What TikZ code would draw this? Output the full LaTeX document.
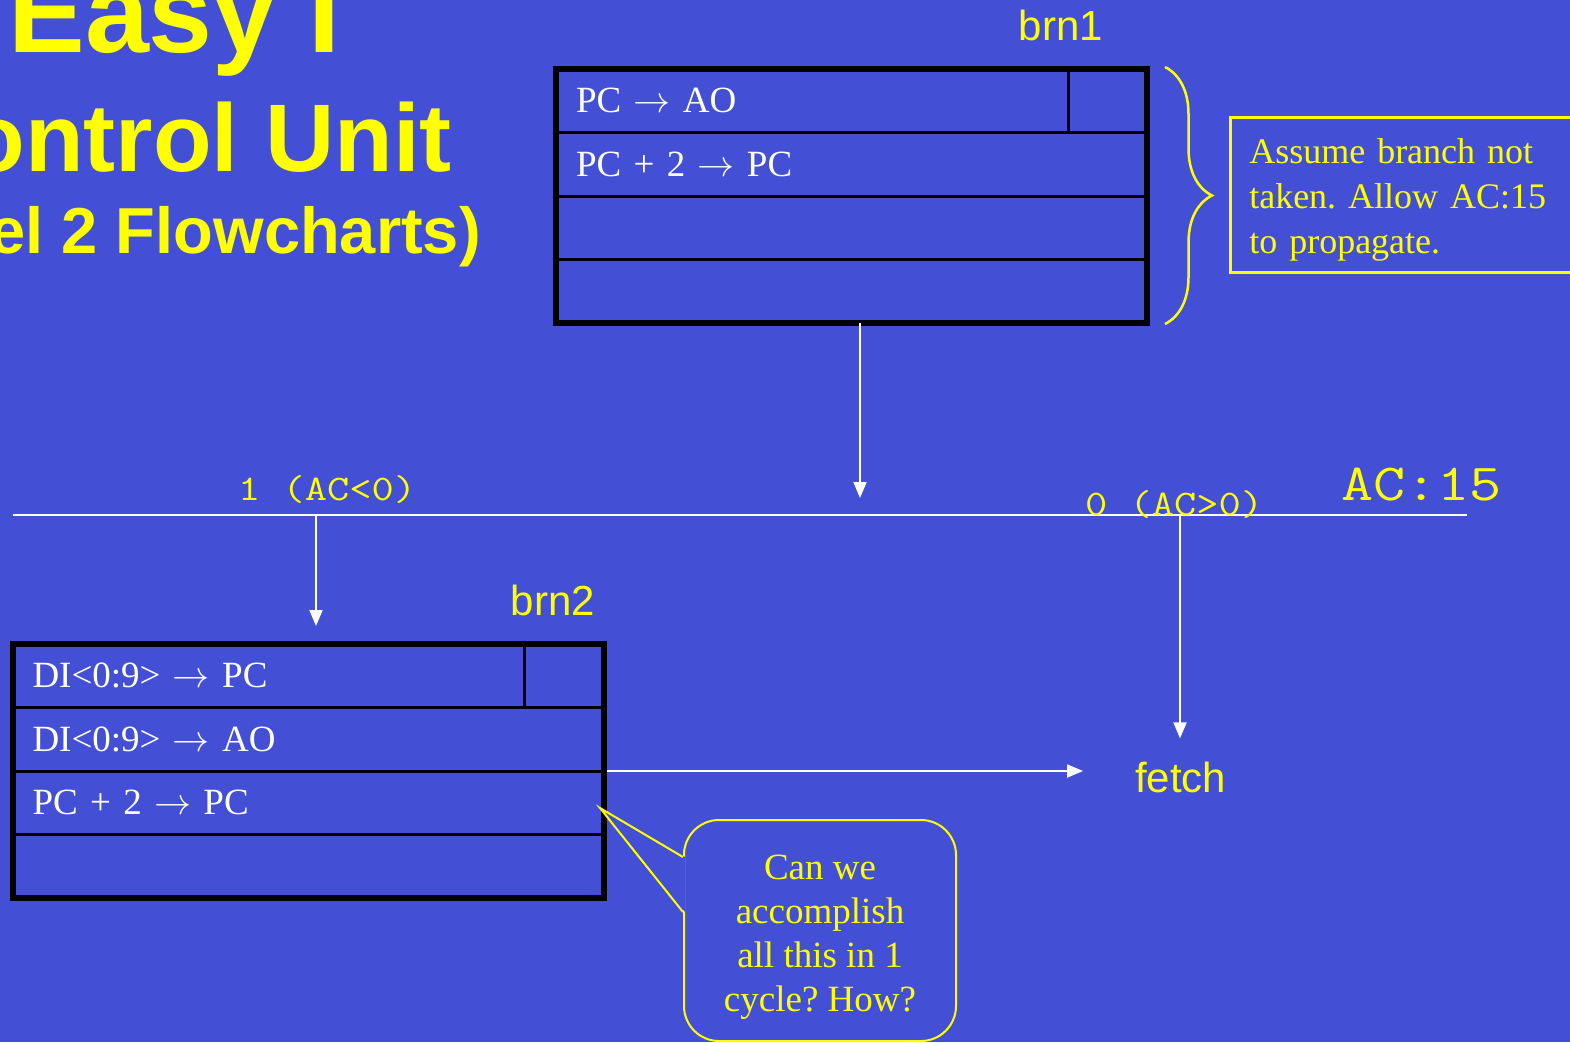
\RequirePackage{fix-cm}
\documentclass[tikz,border=0pt]{standalone}
\usepackage{fontspec}
\setmainfont{Liberation Serif}
\setsansfont{Liberation Sans}
\newfontfamily\courierlike{Latin Modern Mono}[FakeStretch=1.2]
\usepackage{tikz}
\usetikzlibrary{positioning,arrows.meta,decorations.pathreplacing}
\definecolor{slide-blue}{RGB}{67,80,214}
\definecolor{slide-yellow}{RGB}{255,255,0}
\newcommand{\goesto}{\ensuremath{\rightarrow}}
\frenchspacing
\tikzset{
    rtn-row/.style = {draw=black, line width=3pt, rectangle, outer sep=0pt, inner sep=0pt, minimum width=591pt, minimum height=63.5pt, text width=551pt, align=left, text=white, font=\fontsize{37}{45}\selectfont},
    rtn-frame/.style = {draw=black, line width=6pt},
    flow-arrow/.style = {draw=white, line width=2pt, -{Triangle[length=16pt, width=13pt]}},
    bus-line/.style = {draw=white, line width=2pt},
    state-name/.style = {text=slide-yellow, inner sep=0pt, font=\sffamily\fontsize{42}{42}\selectfont},
    branch-label/.style = {text=slide-yellow, inner sep=0pt, font=\courierlike\fontsize{36}{36}\selectfont},
    title-text/.style = {text=slide-yellow, inner sep=0pt, anchor=base east, font=\sffamily\bfseries},
    note-box/.style = {draw=slide-yellow, line width=2.5pt, rectangle, inner xsep=19pt, inner ysep=0pt, minimum height=155pt, text width=382pt, align=left, text=slide-yellow, font=\fontsize{36}{45}\selectfont},
    question-box/.style = {draw=slide-yellow, line width=2pt, rectangle, rounded corners=35pt, minimum width=272pt, minimum height=221pt, align=center, text=slide-yellow, font=\fontsize{37}{44}\selectfont},
}

\begin{document}
\begin{tikzpicture}[x=1pt, y=-1pt]
\useasboundingbox (0,0) rectangle (1570,1042);
\fill[slide-blue] (0,0) rectangle (1570,1042);
\clip (0,0) rectangle (1570,1042);

\node[title-text, font=\sffamily\bfseries\fontsize{115}{115}\selectfont] (title-a) at (341,52) {Easy I};
\node[title-text, font=\sffamily\bfseries\fontsize{96}{96}\selectfont] (title-b) at (452,171) {ontrol Unit};
\node[title-text, font=\sffamily\bfseries\fontsize{65}{65}\selectfont] (title-c) at (481,253) {el 2 Flowcharts)};

% brn1
\node[rtn-row] (brn1-r1) at (851.5,100.75) {PC \goesto{} AO};
\node[rtn-row, below=0pt of brn1-r1] (brn1-r2) {PC + 2 \goesto{} PC};
\node[rtn-row, below=0pt of brn1-r2] (brn1-r3) {};
\node[rtn-row, below=0pt of brn1-r3] (brn1-r4) {};
\draw[line width=3pt] ([xshift=-79pt]brn1-r1.north east) -- ([xshift=-79pt]brn1-r1.south east);
\draw[rtn-frame] (brn1-r1.north west) rectangle (brn1-r4.south east);
\node[state-name, anchor=base east] (brn1-name) at (1103,40) {brn1};

\draw[slide-yellow, line width=2.5pt, decorate, decoration={brace, amplitude=47pt}]
    ([xshift=18pt,yshift=2pt]brn1-r1.north east) -- ([xshift=18pt,yshift=-1pt]brn1-r4.south east);
\node[note-box, anchor=north west] (assume) at (1229,116) {\rule{0pt}{36pt}Assume branch not\\taken. Allow AC:15\\to propagate.};

% branch on AC:15
\coordinate (bus-west) at (13,515);
\coordinate (bus-east) at (1467,515);
\coordinate (tap-one) at (316,515);
\coordinate (tap-zero) at (1180,515);
\draw[bus-line] (bus-west) -- (bus-east);
\draw[flow-arrow, shorten >=17pt] ([xshift=8.5pt]brn1-r4.south) -- ([xshift=8.5pt]brn1-r4.south |- bus-west);
\node[branch-label, anchor=base west] (lbl-one) at (238,500) {1 (AC<0)};
\node[branch-label, anchor=base west] (lbl-zero) at (1085,515) {0 (AC>0)};
\node[branch-label, anchor=base west, font=\courierlike\fontsize{52}{52}\selectfont] (lbl-ac) at (1341,500) {AC:15};

% brn2
\node[rtn-row] (brn2-r1) at (308,675.75) {DI<0:9> \goesto{} PC};
\node[rtn-row, below=0pt of brn2-r1] (brn2-r2) {DI<0:9> \goesto{} AO};
\node[rtn-row, below=0pt of brn2-r2] (brn2-r3) {PC + 2 \goesto{} PC};
\node[rtn-row, below=0pt of brn2-r3] (brn2-r4) {};
\draw[line width=3pt] ([xshift=-79pt]brn2-r1.north east) -- ([xshift=-79pt]brn2-r1.south east);
\draw[rtn-frame] (brn2-r1.north west) rectangle (brn2-r4.south east);
\node[state-name, anchor=base east] (brn2-name) at (595,615) {brn2};

\node[state-name, anchor=base west] (fetch) at (1135,792) {fetch};

\draw[flow-arrow, shorten >=18pt] (tap-one) -- (tap-one |- brn2-r1.north);
\draw[flow-arrow, shorten >=23pt] (tap-zero) -- (tap-zero |- fetch.north);
\draw[flow-arrow, shorten >=52pt] ([xshift=3pt]brn2-r3.north east) -- (brn2-r3.north east -| fetch.west);

% question
\node[question-box] (question) at (820,930.5) {\rule{0pt}{38pt}Can we\\accomplish\\all this in 1\\cycle? How?};
\coordinate (question-tip) at (600,808);
\fill[slide-blue] ([xshift=2pt,yshift=-38pt]question.north west) -- (question-tip) -- ([xshift=2pt,yshift=-93pt]question.north west) -- cycle;
\draw[slide-yellow, line width=2pt] ([yshift=-38pt]question.north west) -- (question-tip) -- ([yshift=-93pt]question.north west);
\end{tikzpicture}
\end{document}
